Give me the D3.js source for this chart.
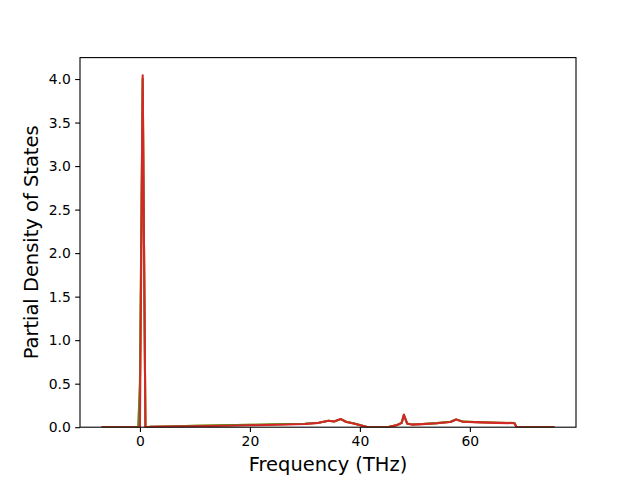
<!DOCTYPE html>
<html><head><meta charset="utf-8">
<script src="https://cdn.jsdelivr.net/npm/d3@7"></script>
<style>body{margin:0;background:#fff}svg{display:block;font-family:"DejaVu Sans",sans-serif}</style>
</head><body>
<script>
// frequency grid (THz)
const freq = [-6.8,-0.3,0.0,0.5,1.0,2,5,10,15,20,25,30,32.5,34.3,35.3,36.5,37.5,39,40.8,41.5,45,46.8,47.6,48.0,48.6,49.5,51.4,54,56.5,57.5,58.7,62,65,68.1,68.5,75.2];
const pdosOrange = [0,0,0.5,4.00,0,0.005,0.009,0.015,0.022,0.027,0.034,0.039,0.052,0.074,0.066,0.093,0.062,0.042,0.012,0,0,0.026,0.05,0.14,0.042,0.032,0.037,0.047,0.062,0.088,0.064,0.057,0.052,0.048,0,0];
const pdosGreen  = [0,0,0.5,4.00,0,0.005,0.009,0.015,0.022,0.027,0.034,0.039,0.052,0.074,0.066,0.093,0.062,0.042,0.012,0,0,0.026,0.05,0.14,0.042,0.032,0.037,0.047,0.062,0.088,0.064,0.057,0.052,0.048,0,0];
const pdosRed    = [0,0,0,4.044,0,0.004,0.007,0.011,0.017,0.022,0.029,0.036,0.05,0.075,0.065,0.095,0.06,0.04,0.01,0,0,0.025,0.05,0.145,0.04,0.03,0.035,0.045,0.06,0.09,0.062,0.055,0.05,0.046,0,0];
const seriesList = [pdosOrange, pdosGreen, pdosRed];
const seriesColors = ["#ff7f0e","#2ca02c","#d62728"];
const xTicks = [0,20,40,60];
const yTicks = [0,0.5,1.0,1.5,2.0,2.5,3.0,3.5,4.0];

const W=640,H=480, L=80,R=576,T=57.6,B=427.2;
const svg = d3.select("body").append("svg").attr("width",W).attr("height",H);
const x = d3.scaleLinear().domain([-10.9,79.3]).range([L,R]);
const ymax = d3.max(seriesList.flat())*1.05;
const y = d3.scaleLinear().domain([0,ymax]).range([B,T]);

svg.append("defs").append("clipPath").attr("id","c").append("rect")
  .attr("x",L).attr("y",T).attr("width",R-L).attr("height",B-T);

const line = d3.line().x((d,i)=>x(freq[i])).y(d=>y(d));
const g = svg.append("g").attr("clip-path","url(#c)");
seriesList.forEach((s,k)=>{
  g.append("path").datum(s).attr("d",line).attr("fill","none")
   .attr("stroke",seriesColors[k]).attr("stroke-width",2.08).attr("stroke-linejoin","round").attr("stroke-linecap","square");
});

const xAxis = d3.axisBottom(x).tickValues(xTicks).tickSize(4.86).tickPadding(4.3).tickFormat(d3.format("d"));
const yAxis = d3.axisLeft(y).tickValues(yTicks).tickSize(4.86).tickPadding(4.3).tickFormat(d3.format(".1f"));
const gx = svg.append("g").attr("transform",`translate(0,${B})`).call(xAxis);
const gy = svg.append("g").attr("transform",`translate(${L},0)`).call(yAxis);
[gx,gy].forEach(a=>{
  a.select(".domain").remove();
  a.selectAll(".tick line").attr("stroke","#000").attr("stroke-width",1.1);
  a.selectAll(".tick text").attr("fill","#000").style("font-size","13.9px").style("font-family","DejaVu Sans");
});
svg.append("rect").attr("x",L).attr("y",T).attr("width",R-L).attr("height",B-T)
  .attr("fill","none").attr("stroke","#000").attr("stroke-width",1.1);

svg.append("text").attr("x",(L+R)/2).attr("y",471).attr("text-anchor","middle")
  .style("font-size","19.44px").text("Frequency (THz)");
svg.append("text").attr("transform",`translate(38,${(T+B)/2}) rotate(-90)`).attr("text-anchor","middle")
  .style("font-size","19.44px").text("Partial Density of States");
</script>
</body></html>
